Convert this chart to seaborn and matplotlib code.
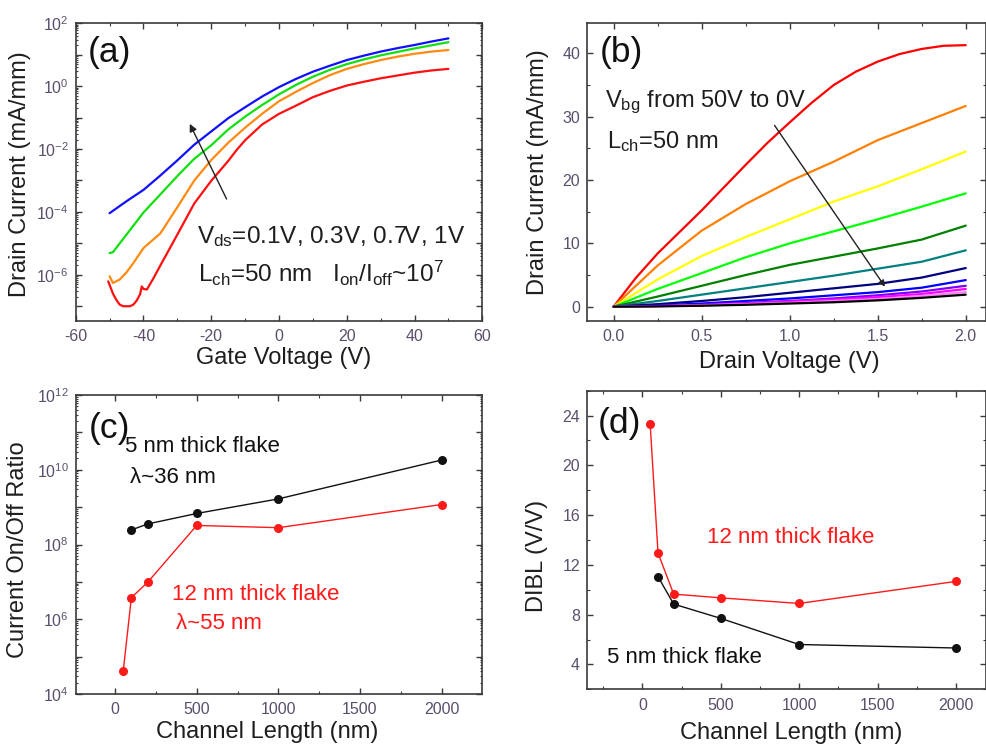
import numpy as np
import pandas as pd
import matplotlib
matplotlib.use("Agg")
import matplotlib.pyplot as plt
from matplotlib import ticker
import seaborn as sns

# ---------------- data ----------------
# (a) transfer curves, log10(I_d [mA/mm]) vs gate voltage
vg_blue = [-50, -45, -40, -35, -30, -25, -20, -15, -10, -5, 0, 5, 10, 15, 20, 25, 30, 35, 40, 45, 50]
log_blue = [-4.04, -3.66, -3.30, -2.84, -2.36, -1.86, -1.44, -1.02, -0.67, -0.33, -0.03, 0.23, 0.46,
            0.65, 0.83, 0.97, 1.10, 1.21, 1.31, 1.42, 1.52]
vg_green = [-50, -49, -45, -40, -35, -30, -25, -20, -15, -10, -5, 0, 5, 10, 15, 20, 25, 30, 35, 40, 45, 50]
log_green = [-5.31, -5.28, -4.72, -4.02, -3.44, -2.86, -2.31, -1.88, -1.38, -0.97, -0.60, -0.26, 0.04,
             0.30, 0.52, 0.70, 0.85, 0.98, 1.09, 1.20, 1.30, 1.40]
vg_orange = [-50, -49, -47, -45, -43, -40, -35, -30, -25, -20, -15, -10, -5, 0, 5, 10, 15, 20, 25, 30,
             35, 40, 45, 50]
log_orange = [-6.05, -6.26, -6.15, -5.92, -5.63, -5.15, -4.68, -3.85, -3.00, -2.35, -1.80, -1.32, -0.88,
              -0.48, -0.18, 0.10, 0.35, 0.55, 0.70, 0.83, 0.94, 1.03, 1.10, 1.15]
vg_red = [-50.4, -49, -48, -47, -46, -44, -43, -42, -41, -40.5, -40, -39, -37, -35, -33, -30, -25, -20,
          -15, -12.5, -10, -5, 0, 5, 10, 15, 20, 25, 30, 35, 40, 45, 50]
log_red = [-6.21, -6.60, -6.80, -6.95, -7.00, -7.00, -6.95, -6.82, -6.62, -6.37, -6.45, -6.47, -6.10,
           -5.70, -5.31, -4.72, -3.73, -3.01, -2.38, -2.03, -1.72, -1.22, -0.88, -0.62, -0.35, -0.15,
           0.02, 0.14, 0.25, 0.34, 0.43, 0.50, 0.55]

# (b) output curves, I_d [mA/mm] vs drain voltage
vd_fine = [0, 0.125, 0.25, 0.375, 0.5, 0.625, 0.75, 0.875, 1.0, 1.125, 1.25, 1.375, 1.5, 1.625, 1.75,
           1.875, 2.0]
id_red = [0, 4.5, 8.4, 11.8, 15.2, 18.8, 22.4, 25.9, 29.1, 32.2, 35.0, 37.1, 38.7, 39.9, 40.7, 41.2, 41.3]
vd = [0, 0.25, 0.5, 0.75, 1.0, 1.25, 1.5, 1.75, 2.0]
id_orange = [0, 6.5, 12.0, 16.2, 19.8, 22.9, 26.3, 29.0, 31.7]
id_yellow = [0, 4.3, 8.0, 11.0, 13.8, 16.6, 19.0, 21.7, 24.5]
id_lime = [0, 2.8, 5.3, 7.8, 10.0, 11.9, 13.8, 15.8, 17.9]
id_dgreen = [0, 1.6, 3.3, 5.0, 6.6, 7.9, 9.2, 10.6, 12.8]
id_teal = [0, 0.9, 1.9, 2.9, 3.9, 4.9, 6.0, 7.1, 8.9]
id_navy = [0, 0.4, 0.9, 1.5, 2.2, 2.9, 3.6, 4.6, 6.1]
id_blue = [0, 0.2, 0.5, 0.9, 1.3, 1.8, 2.3, 3.0, 4.2]
id_violet = [0, 0.1, 0.3, 0.6, 0.9, 1.3, 1.8, 2.4, 3.3]
id_magenta = [0, 0.1, 0.25, 0.5, 0.8, 1.1, 1.5, 2.0, 2.8]
id_pink = [0, 0.05, 0.2, 0.4, 0.6, 0.9, 1.2, 1.7, 2.3]
id_black = [0, 0.05, 0.15, 0.3, 0.5, 0.7, 1.0, 1.4, 1.9]

# (c) on/off ratio (log10) vs channel length
L_5nm_c = [100, 200, 500, 1000, 2000]
logratio_5nm = [8.39, 8.55, 8.83, 9.22, 10.26]
L_12nm_c = [50, 100, 200, 500, 1000, 2000]
logratio_12nm = [4.61, 6.58, 6.99, 8.51, 8.45, 9.07]

# (d) DIBL vs channel length
L_12nm_d = [50, 100, 200, 500, 1000, 2000]
dibl_12nm = [23.3, 12.95, 9.65, 9.35, 8.9, 10.67]
L_5nm_d = [100, 200, 500, 1000, 2000]
dibl_5nm = [11.05, 8.85, 7.7, 5.6, 5.32]

# tick decades for the log axes
decades_a = list(range(-7, 3))
decades_c = list(range(4, 13))

# ---------------- style ----------------
sns.set_theme(style="ticks")
plt.rcParams["font.family"] = ["Liberation Sans", "DejaVu Sans"]
plt.rcParams["mathtext.fontset"] = "custom"
plt.rcParams["mathtext.rm"] = "Liberation Sans"
plt.rcParams["mathtext.it"] = "Liberation Sans:italic"
plt.rcParams["mathtext.bf"] = "Liberation Sans:bold"
plt.rcParams["axes.unicode_minus"] = False

TICKC = "#5a4f6b"
SPINEC = "#3a3a3a"
LABELC = "#1e1e1e"

fig = plt.figure(figsize=(9.87, 7.45), dpi=100)
W, H = 987, 745


def add_ax(l, r, t, b):
    return fig.add_axes([l / W, 1 - b / H, (r - l) / W, (b - t) / H])


axA = add_ax(75.7, 482.3, 23.3, 321.0)
axB = add_ax(587.0, 986.0, 23.3, 321.0)
axC = add_ax(75.7, 482.3, 395.0, 694.0)
axD = add_ax(587.0, 986.0, 390.7, 689.3)


def style(ax):
    for s in ax.spines.values():
        s.set_color(SPINEC)
        s.set_linewidth(1.2)
    ax.tick_params(which="both", direction="in", top=True, right=True, colors=SPINEC,
                   labelcolor=TICKC, labelsize=11.5)
    ax.tick_params(which="major", length=4.5, width=1.0)
    ax.tick_params(which="minor", length=2.5, width=0.8)
    ax.tick_params(axis="y", pad=5)
    ax.tick_params(axis="x", pad=6)


def set_log_axis(ax, decades):
    ax.yaxis.set_major_locator(ticker.FixedLocator([10.0 ** e for e in decades]))
    minors = [m * 10.0 ** e for e in decades[:-1] for m in range(2, 10)]
    ax.yaxis.set_minor_locator(ticker.FixedLocator(minors))
    labels = [r"$\mathregular{10^{%d}}$" % e if e % 2 == 0 else "" for e in decades]
    ax.yaxis.set_major_formatter(ticker.FixedFormatter(labels))
    ax.yaxis.set_minor_formatter(ticker.NullFormatter())


def set_labels(ax, xl, yl, xpos, ypos):
    ax.set_xlabel(xl, fontsize=17, color=LABELC)
    ax.set_ylabel(yl, fontsize=17, color=LABELC)
    ax.xaxis.set_label_coords(*xpos)
    ax.yaxis.set_label_coords(*ypos)
    ax.xaxis.label.set_verticalalignment("center")
    ax.yaxis.label.set_verticalalignment("center")


# ---------------- (a) ----------------
dfA = pd.concat([
    pd.DataFrame({"Vg": vg_red, "I": 10 ** np.array(log_red), "s": "1"}),
    pd.DataFrame({"Vg": vg_orange, "I": 10 ** np.array(log_orange), "s": "2"}),
    pd.DataFrame({"Vg": vg_green, "I": 10 ** np.array(log_green), "s": "3"}),
    pd.DataFrame({"Vg": vg_blue, "I": 10 ** np.array(log_blue), "s": "4"}),
])
sns.lineplot(data=dfA, x="Vg", y="I", hue="s", palette=["#ff1010", "#ff8a10", "#10e010", "#1010ff"],
             estimator=None, sort=True, lw=1.6, legend=False, ax=axA)
axA.set_yscale("log")
axA.set_xlim(-60, 60)
axA.set_ylim(10 ** -7.47, 1e2)
axA.xaxis.set_major_locator(ticker.MultipleLocator(20))
axA.xaxis.set_minor_locator(ticker.MultipleLocator(10))
set_log_axis(axA, decades_a)
style(axA)
axA.tick_params(axis="y", which="minor", length=1.5)
set_labels(axA, "Gate Voltage (V)", "Drain Current (mA/mm)", (0.512, -0.124), (-0.137, 0.494))
axA.text(0.030, 0.871, "(a)", transform=axA.transAxes, fontsize=25.5, color="#111111", va="baseline")
axA.text(0.298, 0.261, r"V$_{\mathregular{ds}}$=0.1V, 0.3V, 0.7V, 1V", transform=axA.transAxes,
         fontsize=17.5, color="#1e1e1e", va="baseline")
axA.text(0.302, 0.132, r"L$_{\mathregular{ch}}$=50 nm   I$_{\mathregular{on}}$/I$_{\mathregular{off}}$~10$^{\mathregular{7}}$",
         transform=axA.transAxes, fontsize=17.5, color="#1e1e1e", va="baseline")
axA.annotate("", xy=(-26.7, 10 ** -1.12), xytext=(-15.1, 10 ** -3.67),
             arrowprops=dict(arrowstyle="-|>", color="#222222", lw=1.0, mutation_scale=11))

# ---------------- (b) ----------------
b_series = [
    (vd_fine, id_red, "#ff0000"), (vd, id_orange, "#ff8000"), (vd, id_yellow, "#ffff00"),
    (vd, id_lime, "#00ff00"), (vd, id_dgreen, "#008000"), (vd, id_teal, "#008080"),
    (vd, id_navy, "#000080"), (vd, id_blue, "#0000ff"), (vd, id_violet, "#8000ff"),
    (vd, id_magenta, "#ff00ff"), (vd, id_pink, "#ff80ff"), (vd, id_black, "#000000"),
]
dfB = pd.concat([pd.DataFrame({"Vd": x, "I": y, "s": f"{i:02d}"}) for i, (x, y, c) in enumerate(b_series)])
sns.lineplot(data=dfB, x="Vd", y="I", hue="s", palette=[c for _, _, c in b_series],
             estimator=None, sort=True, lw=1.6, legend=False, ax=axB)
axB.set_xlim(-0.151, 2.115)
axB.set_ylim(-2.26, 44.75)
axB.xaxis.set_major_locator(ticker.MultipleLocator(0.5))
axB.xaxis.set_minor_locator(ticker.MultipleLocator(0.25))
axB.xaxis.set_major_formatter(ticker.FormatStrFormatter("%.1f"))
axB.yaxis.set_major_locator(ticker.MultipleLocator(10))
axB.yaxis.set_minor_locator(ticker.MultipleLocator(5))
style(axB)
set_labels(axB, "Drain Voltage (V)", "Drain Current (mA/mm)", (0.506, -0.137), (-0.122, 0.5))
axB.text(0.031, 0.871, "(b)", transform=axB.transAxes, fontsize=25.5, color="#111111", va="baseline")
axB.text(0.045, 0.718, r"V$_{\mathregular{bg}}$ from 50V to 0V", transform=axB.transAxes,
         fontsize=17, color="#1e1e1e", va="baseline")
axB.text(0.049, 0.582, r"L$_{\mathregular{ch}}$=50 nm", transform=axB.transAxes,
         fontsize=17, color="#1e1e1e", va="baseline")
axB.annotate("", xy=(1.55, 2.8), xytext=(0.905, 29.0),
             arrowprops=dict(arrowstyle="-|>", color="#222222", lw=1.0, mutation_scale=9))

# ---------------- (c) ----------------
dfC = pd.concat([
    pd.DataFrame({"L": L_5nm_c, "R": 10 ** np.array(logratio_5nm), "s": "5 nm"}),
    pd.DataFrame({"L": L_12nm_c, "R": 10 ** np.array(logratio_12nm), "s": "12 nm"}),
])
sns.lineplot(data=dfC, x="L", y="R", hue="s", palette=["#111111", "#ff1a1a"], estimator=None,
             marker="o", markersize=6.5, markeredgewidth=0, lw=1.0, legend=False, ax=axC)
axC.set_yscale("log")
axC.set_xlim(-241, 2249)
axC.set_ylim(1e4, 1e12)
axC.xaxis.set_major_locator(ticker.MultipleLocator(500))
axC.xaxis.set_minor_locator(ticker.MultipleLocator(250))
set_log_axis(axC, decades_c)
style(axC)
axC.tick_params(axis="y", which="minor", length=1.5)
set_labels(axC, "Channel Length (nm)", "Current On/Off Ratio", (0.471, -0.126), (-0.142, 0.482))
axC.text(0.031, 0.855, "(c)", transform=axC.transAxes, fontsize=25.5, color="#111111", va="baseline")
axC.text(0.121, 0.810, "5 nm thick flake", transform=axC.transAxes, fontsize=16, color="#111111",
         va="baseline")
axC.text(0.134, 0.707, "λ~36 nm", transform=axC.transAxes, fontsize=16, color="#111111", va="baseline")
axC.text(0.236, 0.314, "12 nm thick flake", transform=axC.transAxes, fontsize=16, color="#ff1a1a",
         va="baseline")
axC.text(0.247, 0.216, "λ~55 nm", transform=axC.transAxes, fontsize=16, color="#ff1a1a", va="baseline")

# ---------------- (d) ----------------
dfD = pd.concat([
    pd.DataFrame({"L": L_5nm_d, "D": dibl_5nm, "s": "5 nm"}),
    pd.DataFrame({"L": L_12nm_d, "D": dibl_12nm, "s": "12 nm"}),
])
sns.lineplot(data=dfD, x="L", y="D", hue="s", palette=["#111111", "#ff1a1a"], estimator=None,
             marker="o", markersize=6.5, markeredgewidth=0, lw=1.0, legend=False, ax=axD)
axD.set_xlim(-353, 2192)
axD.set_ylim(2, 26)
axD.xaxis.set_major_locator(ticker.MultipleLocator(500))
axD.xaxis.set_minor_locator(ticker.MultipleLocator(250))
axD.yaxis.set_major_locator(ticker.MultipleLocator(4))
axD.yaxis.set_minor_locator(ticker.MultipleLocator(2))
style(axD)
set_labels(axD, "Channel Length (nm)", "DIBL (V/V)", (0.513, -0.146), (-0.126, 0.448))
axD.text(0.028, 0.857, "(d)", transform=axD.transAxes, fontsize=25.5, color="#111111", va="baseline")
axD.text(0.301, 0.491, "12 nm thick flake", transform=axD.transAxes, fontsize=16, color="#ff1a1a",
         va="baseline")
axD.text(0.051, 0.089, "5 nm thick flake", transform=axD.transAxes, fontsize=16, color="#111111",
         va="baseline")

fig.savefig("out.png", dpi=100)
